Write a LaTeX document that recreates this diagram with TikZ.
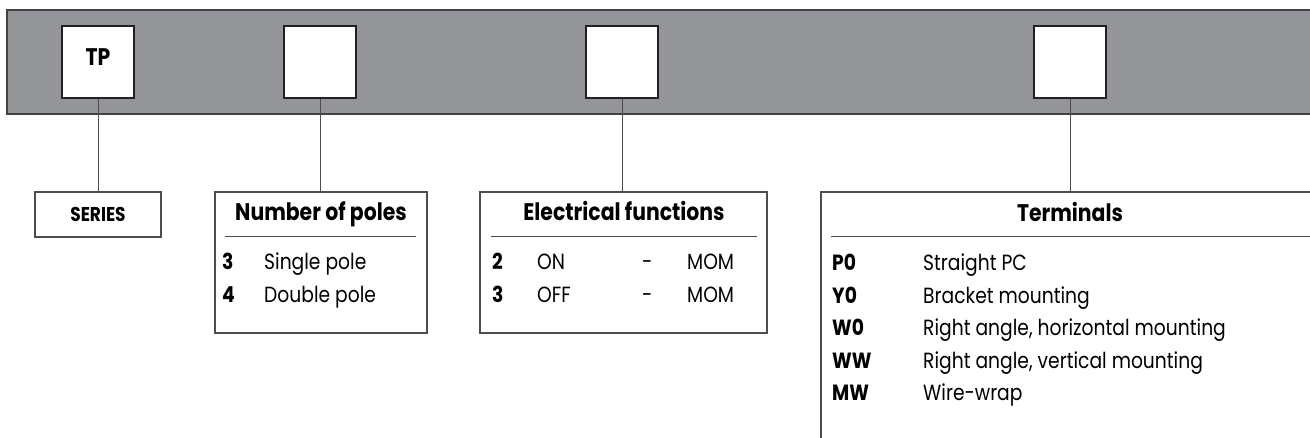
\documentclass[tikz,border=0pt]{standalone}
\usepackage{fontspec}
\setmainfont{Poppins}[FakeStretch=0.85]
\usetikzlibrary{calc,positioning}
\definecolor{codegrey}{HTML}{939598}
\definecolor{codeink}{HTML}{231F20}
\definecolor{codeedge}{HTML}{4D4D4F}
\tikzset{
  band/.style={fill=codegrey},
  bandedge/.style={draw=codeink!85,line width=1.6pt},
  codebox/.style={draw=codeink,line width=2.6pt,fill=white,minimum width=72pt,
                  minimum height=72pt,inner sep=0pt,text height=14pt,text depth=6pt,
                  font=\fontsize{24}{26}\selectfont\bfseries},
  tagbox/.style={draw=codeedge,line width=1.2pt,inner sep=0pt,
                 font=\fontsize{20}{22}\selectfont\bfseries},
  panel/.style={draw=codeedge,line width=1.2pt,inner sep=0pt},
  paneltitle/.style={anchor=base,inner sep=0pt,font=\fontsize{24}{26}\selectfont\bfseries},
  rowtext/.style={anchor=base west,inner sep=0pt,font=\fontsize{22}{24}\selectfont},
  rule/.style={draw=codeedge,line width=1pt},
  link/.style={draw=codeedge,line width=1pt},
}
\newcommand{\rowkey}[2]{\makebox[#1][l]{\bfseries #2}}
\begin{document}
\begin{tikzpicture}[x=1pt,y=-1pt]
  \clip (0,0) rectangle (1310,438);

  % ---- code band ----
  \fill[band] (7,10) rectangle (1320,114);
  \draw[bandedge] (1320,10) -- (7,10) -- (7,114) -- (1320,114);
  \node[codebox] (series-code) at (98,62) {TP};
  \node[codebox] (poles-code) at (320,62) {};
  \node[codebox] (funcs-code) at (622,62) {};
  \node[codebox] (terms-code) at (1070,62) {};

  % ---- series ----
  \node[tagbox,minimum width=126pt,minimum height=45pt] (series) at (98,214.5) {SERIES};
  \draw[link] (series-code.south) -- (series.north);

  % ---- number of poles ----
  \node[panel,minimum width=212pt,minimum height=141pt] (poles) at (321,262.5) {};
  \node[paneltitle] (poles-title) at (321,221) {Number of poles};
  \draw[rule] ($(poles.north west)+(11,45)$) -- ($(poles.north east)+(-12,45)$);
  \node[rowtext] (pole-3) at (222,270) {\rowkey{42pt}{3}Single pole};
  \node[rowtext] (pole-4) at (222,303) {\rowkey{42pt}{4}Double pole};
  \draw[link] (poles-code.south) -- (poles-code.south |- poles.north);

  % ---- electrical functions ----
  \node[panel,minimum width=287pt,minimum height=141pt] (funcs) at (623.5,262.5) {};
  \node[paneltitle] (funcs-title) at (624,221) {Electrical functions};
  \draw[rule] ($(funcs.north west)+(12,45)$) -- ($(funcs.north east)+(-11,45)$);
  \node[rowtext] (func-2) at (492,270)
    {\rowkey{45pt}{2}\makebox[105pt][l]{ON}\makebox[45pt][l]{-}MOM};
  \node[rowtext] (func-3) at (492,303)
    {\rowkey{45pt}{3}\makebox[105pt][l]{OFF}\makebox[45pt][l]{-}MOM};
  \draw[link] (funcs-code.south) -- (funcs-code.south |- funcs.north);

  % ---- terminals (runs off the page) ----
  \node[panel,minimum width=509pt,minimum height=268pt] (terms) at (1075.5,326) {};
  \node[paneltitle] (terms-title) at (1070,222) {Terminals};
  \draw[rule] ($(terms.north west)+(11,45)$) -- ($(terms.north east)+(0,45)$);
  \node[rowtext] (term-p0) at (832,271) {\rowkey{91pt}{P0}Straight PC};
  \node[rowtext] (term-y0) at (832,304) {\rowkey{91pt}{Y0}Bracket mounting};
  \node[rowtext] (term-w0) at (832,336) {\rowkey{91pt}{W0}Right angle, horizontal mounting};
  \node[rowtext] (term-ww) at (832,369) {\rowkey{91pt}{WW}Right angle, vertical mounting};
  \node[rowtext] (term-mw) at (832,401) {\rowkey{91pt}{MW}Wire-wrap};
  \draw[link] (terms-code.south) -- (terms-code.south |- terms.north);
\end{tikzpicture}
\end{document}
